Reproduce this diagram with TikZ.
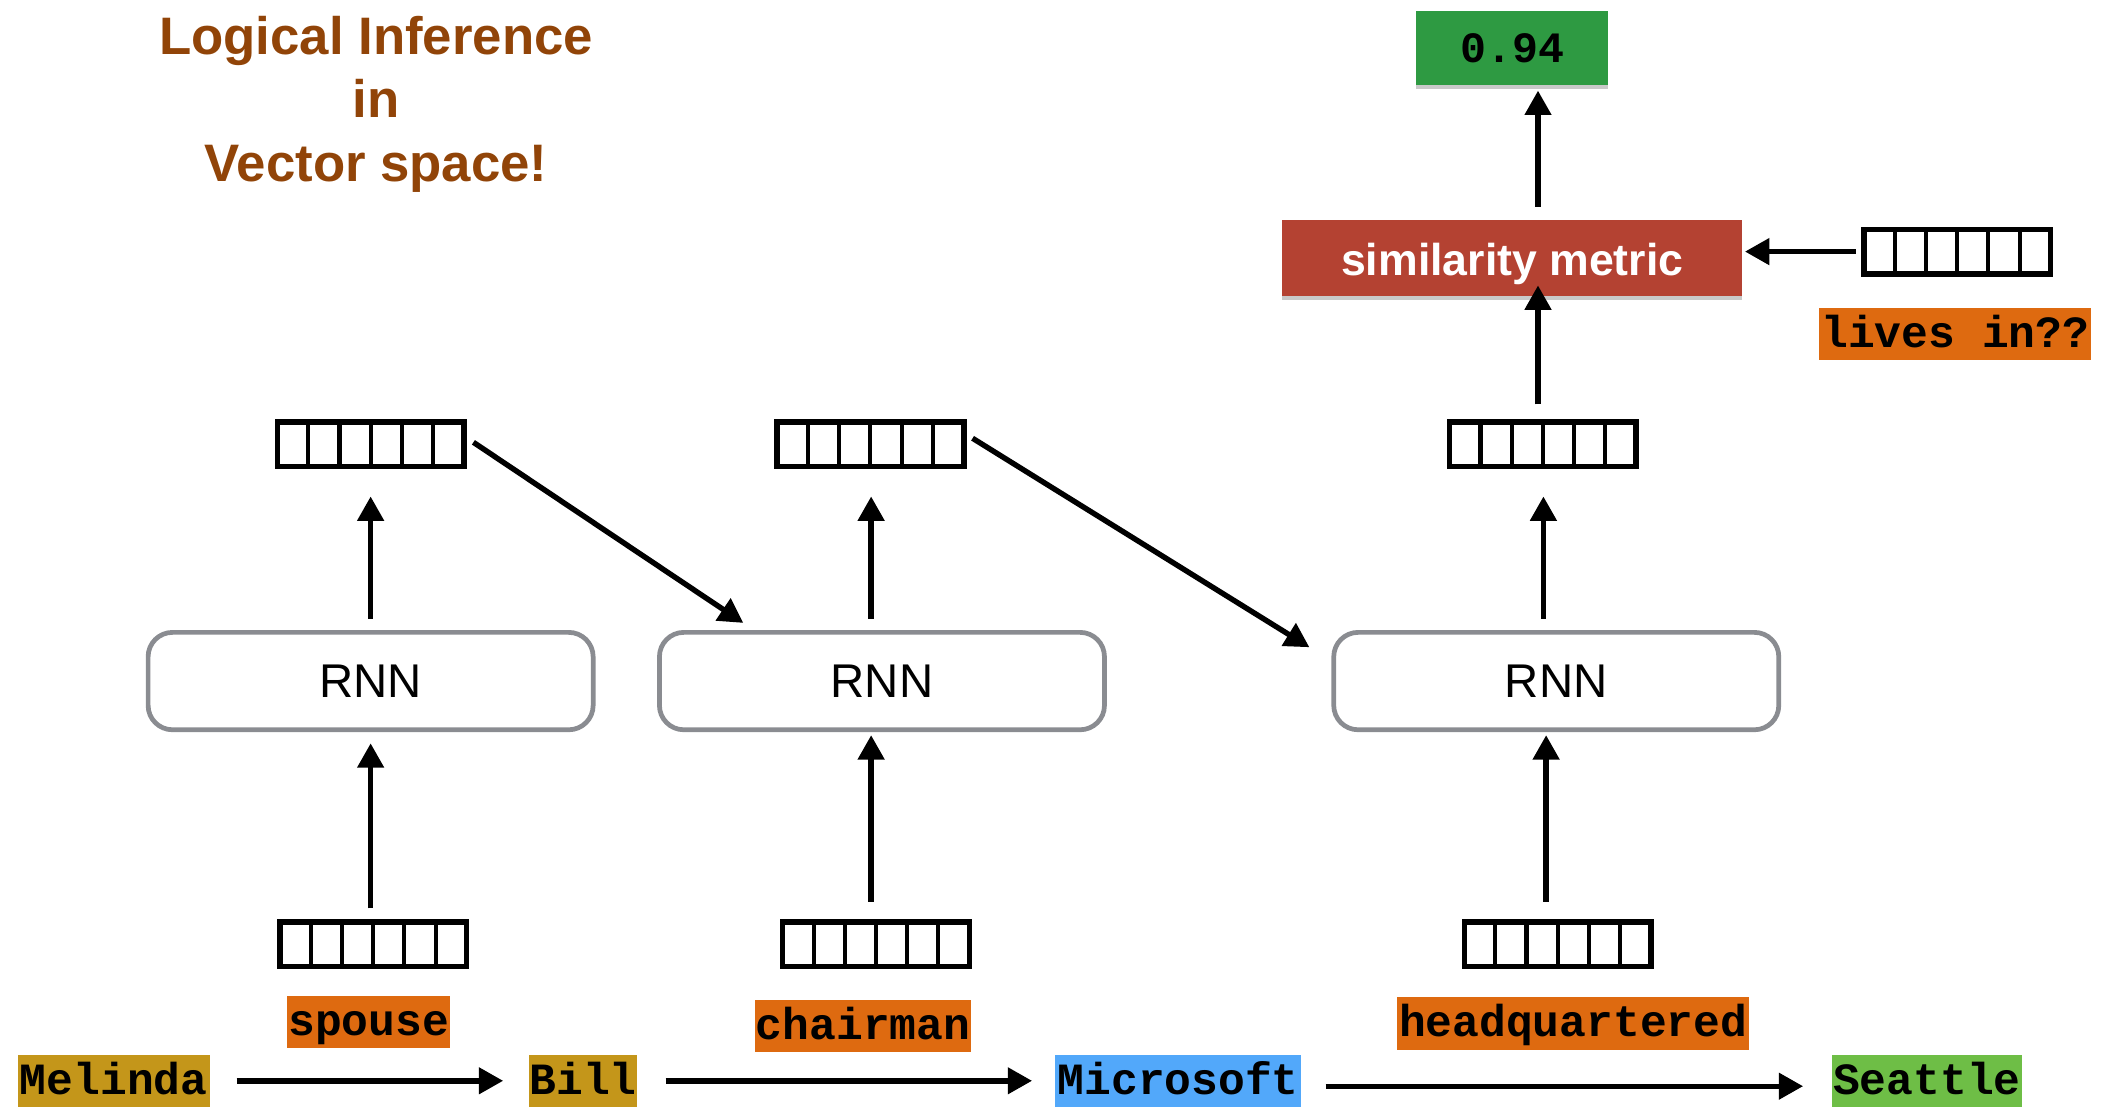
\documentclass[tikz,border=0pt]{standalone}
\usepackage{fontspec}
\setmainfont{Liberation Sans}
\newfontfamily\monofam{Liberation Mono}
\usetikzlibrary{arrows.meta,calc,shadows}
\definecolor{goldbg}{RGB}{196,150,26}
\definecolor{orangebg}{RGB}{222,106,16}
\definecolor{bluebg}{RGB}{82,168,250}
\definecolor{greenbg}{RGB}{110,190,70}
\definecolor{scoregreen}{RGB}{46,154,66}
\definecolor{simred}{RGB}{180,66,50}
\definecolor{titlebrown}{RGB}{145,68,8}
\definecolor{rnngray}{RGB}{138,140,145}
\tikzset{
  arr/.style={line width=4pt,-{Triangle[length=18pt,width=19pt]}},
  word/.style={inner sep=0pt, outer sep=0pt, minimum height=38pt, text height=29pt, text depth=9pt,
    font=\monofam\bfseries\fontsize{33}{40}\selectfont},
  vecbox/.style={draw, line width=4pt, minimum width=138pt, minimum height=33pt, inner sep=0pt, outer sep=0pt},
  cellline/.style={line width=3pt},
  rnnbox/.style={draw=rnngray, line width=3.5pt, rounded corners=18pt, minimum width=329pt, minimum height=72pt,
    outer sep=0pt, font=\fontsize{35}{40}\selectfont},
  titletext/.style={text=titlebrown, font=\bfseries\fontsize{39}{46}\selectfont, anchor=base, inner sep=0pt},
  shadowed/.style={drop shadow={shadow xshift=0pt, shadow yshift=-3pt, opacity=0.3, fill=black!70}},
}
\newcommand\cellvec[2]{%
  \node[vecbox] (#1) at #2 {};
  \foreach \k in {1,...,5}{\draw[cellline] ($(#1.south west)!\k/6!(#1.south east)$) -- ($(#1.north west)!\k/6!(#1.north east)$);}
}
\begin{document}
\begin{tikzpicture}[x=1pt,y=-1pt]
\useasboundingbox (0,0) rectangle (1568,818);

% title
\node[titletext] (title1) at (278,40) {Logical Inference};
\node[titletext] (title2) at (278,87) {in};
\node[titletext] (title3) at (278,134) {Vector space!};

% score and similarity
\node[shadowed, fill=scoregreen, minimum width=142pt, minimum height=55pt, inner sep=0pt, outer sep=0pt,
  font=\monofam\bfseries\fontsize{32}{40}\selectfont] (score) at (1118,35.5) {0.94};
\node[shadowed, fill=simred, minimum width=340pt, minimum height=56pt, inner sep=0pt, outer sep=0pt, text=white,
  text height=41pt, text depth=15pt,
  font=\bfseries\fontsize{33}{40}\selectfont] (sim) at (1118,191) {similarity metric};

% query vector and label
\cellvec{q}{(1447,186)}
\node[word, fill=orangebg, minimum width=201pt] (lives) at (1445.5,247) {lives in??};

% hidden vectors
\cellvec{h1}{(274,328.5)}
\cellvec{h2}{(643.5,328.5)}
\cellvec{h3}{(1140.5,328.5)}

% RNN boxes
\node[rnnbox] (r1) at (274,503.5) {RNN};
\node[rnnbox] (r2) at (652,503.5) {RNN};
\node[rnnbox] (r3) at (1150.5,503.5) {RNN};

% input vectors
\cellvec{v1}{(276,698)}
\cellvec{v2}{(647.5,698)}
\cellvec{v3}{(1151.5,698)}

% relation labels
\node[word, fill=orangebg, minimum width=121pt, minimum height=39pt] (spouse) at (272.5,755.5) {spouse};
\node[word, fill=orangebg, minimum width=160pt, minimum height=39pt] (chair) at (638,758.5) {chairman};
\node[word, fill=orangebg, minimum width=260pt, minimum height=39pt] (hq) at (1163,756.5) {headquartered};

% entities
\node[word, fill=goldbg, minimum width=142pt] (melinda) at (84,799) {Melinda};
\node[word, fill=goldbg, minimum width=80pt] (bill) at (431,799) {Bill};
\node[word, fill=bluebg, minimum width=182pt] (ms) at (871,799) {Microsoft};
\node[word, fill=greenbg, minimum width=141pt] (seattle) at (1424.5,799) {Seattle};

% entity arrows
\draw[arr] ([xshift=20pt]melinda.east) -- ([xshift=-19pt]bill.west);
\draw[arr] ([xshift=21pt]bill.east) -- ([xshift=-17pt]ms.west);
\draw[arr] ([xshift=18pt,yshift=-4pt]ms.east) -- ([xshift=-21pt,yshift=-4pt]seattle.west);

% vertical arrows
\draw[arr] ([xshift=-2pt,yshift=10pt]v1.north) -- ([yshift=-10pt]r1.south);
\draw[arr] ([yshift=10pt]r1.north) -- ([yshift=-22pt]h1.south);
\draw[arr] ([xshift=-3.5pt,yshift=15pt]v2.north) -- ([xshift=-8pt,yshift=-4pt]r2.south);
\draw[arr] ([xshift=-8pt,yshift=10pt]r2.north) -- ([xshift=0.5pt,yshift=-22pt]h2.south);
\draw[arr] ([xshift=-8.5pt,yshift=15pt]v3.north) -- ([xshift=-7.5pt,yshift=-4pt]r3.south);
\draw[arr] ([xshift=-9.5pt,yshift=10pt]r3.north) -- ([xshift=0.5pt,yshift=-22pt]h3.south);
\draw[arr] ([xshift=-3.5pt,yshift=13pt]h3.north) -- ([xshift=19pt,yshift=8pt]sim.south);
\draw[arr] ([xshift=19pt,yshift=10pt]sim.north) -- ([xshift=19pt,yshift=-4pt]score.south);
\draw[arr] ([xshift=-6pt]q.west) -- ([xshift=2pt,yshift=5pt]sim.east);

% recurrent arrows
\draw[arr] ([xshift=7pt,yshift=1.5pt]h1.east) -- ([xshift=62pt,yshift=7pt]r2.north west);
\draw[arr] ([xshift=6.5pt,yshift=4.5pt]h2.east) -- ([xshift=-18pt,yshift=-11pt]r3.north west);
\end{tikzpicture}
\end{document}
